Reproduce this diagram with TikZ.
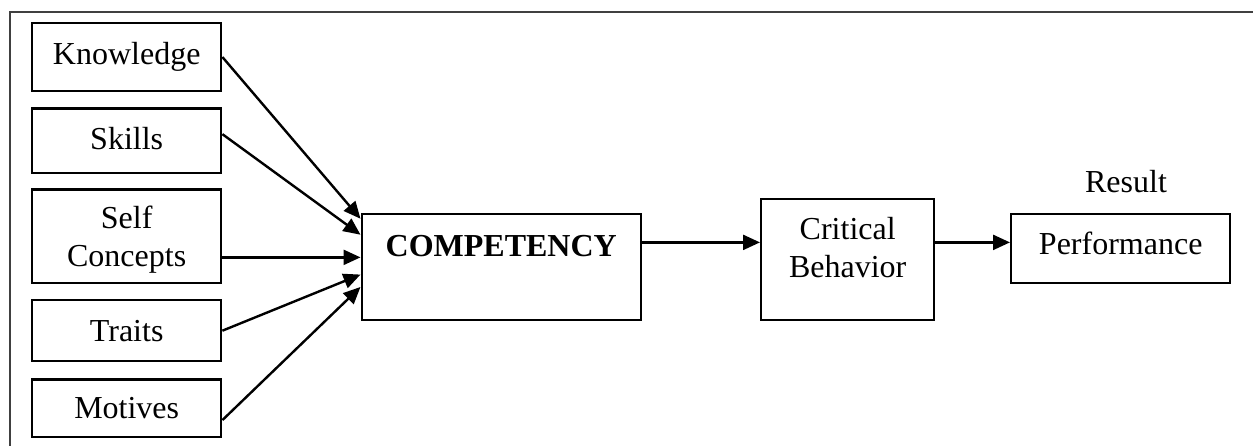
\documentclass[tikz,border=0pt]{standalone}
\usepackage{fontspec}
\setmainfont{Liberation Serif}
\usetikzlibrary{arrows.meta}
\begin{document}
\begin{tikzpicture}[x=1pt,y=-1pt,line width=2.4pt,>={Triangle[length=17pt,width=15pt]},
		font=\fontsize{32}{38}\selectfont,
		box/.style={draw,inner sep=0pt,anchor=north west,align=center},
		frame/.style={draw=black!75,line width=2.4pt}]
			\useasboundingbox (0,0) rectangle (1253,446);
			\draw[frame] (1253,12)--(10,12)--(10,446);
			\node[box,minimum width=189pt,text height=41.6pt,text depth=26.7pt] (know) at (31,21.7) {Knowledge};
			\node[box,minimum width=189pt,text height=41pt,text depth=23.7pt] (skills) at (31,107.3) {Skills};
			\node[box,minimum width=189pt,text height=76.7pt,text depth=17pt] (self) at (31,188.3) {Self\\Concepts};
			\node[box,minimum width=189pt,text height=41pt,text depth=20pt] (traits) at (31,299) {Traits};
			\node[box,minimum width=189pt,text height=39.4pt,text depth=18.3pt] (motives) at (31,378.3) {Motives};
			\node[box,minimum width=279pt,text height=42pt,text depth=64pt,font=\fontsize{32}{38}\selectfont\bfseries] (comp) at (360.5,213) {COMPETENCY};
			\node[box,minimum width=173pt,text height=78pt,text depth=43pt] (behav) at (760,198) {Critical\\Behavior};
			\node[box,minimum width=219pt,text height=40pt,text depth=29pt] (perf) at (1010,213) {Performance};
			\node[anchor=base,inner sep=0pt] (result) at (1126,193) {Result};
			\draw[->] (know.east)--(comp.161);
			\draw[->] (skills.4)--(comp.167);
			\draw[->] (self.east |- comp.176)--(comp.176);
			\draw[->] (traits.east)--(comp.183);
			\draw[->] (motives.353)--(comp.188);
			\draw[->] (comp.10)--(behav.west |- comp.10);
			\draw[->] (behav.east |- comp.10)--(perf.west |- comp.10);
		\end{tikzpicture}
\end{document}
